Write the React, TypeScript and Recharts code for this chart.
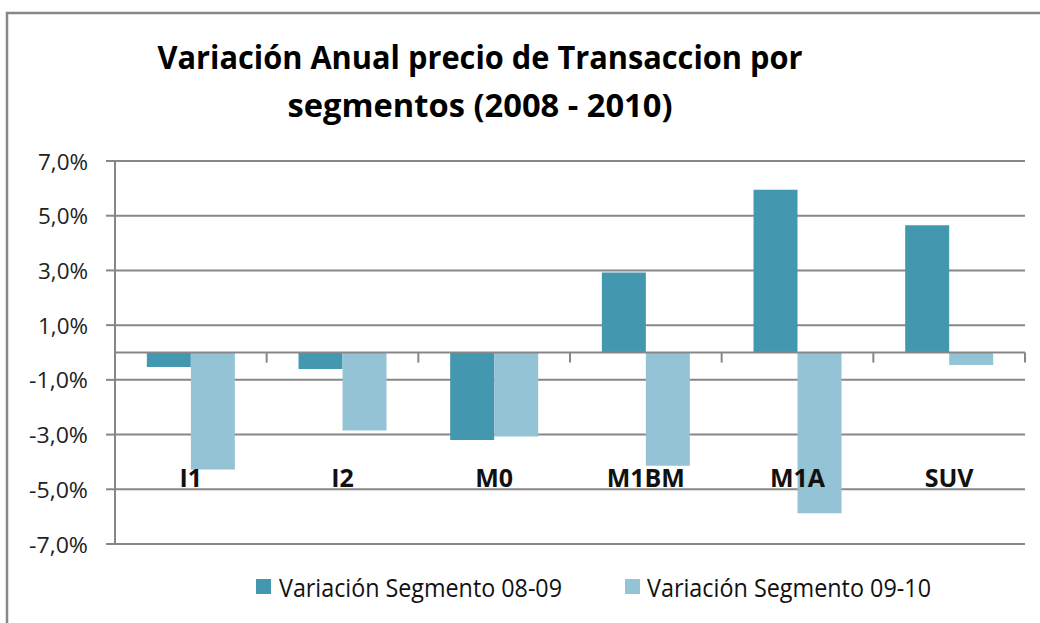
// @ts-nocheck
import React from 'react';
import { BarChart, Bar, XAxis, YAxis, CartesianGrid, ReferenceLine } from 'recharts';

const categories = ['I1', 'I2', 'M0', 'M1BM', 'M1A', 'SUV'];
const variacion0809 = [-0.53, -0.6, -3.2, 2.92, 5.95, 4.65];
const variacion0910 = [-4.28, -2.85, -3.07, -4.14, -5.88, -0.46];
const yTicks = [-7, -5, -3, -1, 1, 3, 5, 7];
const seriesNames = ['Variación Segmento 08-09', 'Variación Segmento 09-10'];
const titleLines = ['Variación Anual precio de Transaccion por', 'segmentos (2008 - 2010)'];

const DARK = '#4398AF';
const LIGHT = '#93C3D4';
const GRID = '#878787';

const data = categories.map((c, i) => ({
  name: c,
  s1: variacion0809[i],
  s2: variacion0910[i],
}));

const fmt = (v) => v.toFixed(1).replace('.', ',') + '%';

const YTick = ({ x, y, payload }) => {
  const label = fmt(payload.value);
  return (
    <text x={x} y={y} dy={8.5} textAnchor="end" fontFamily="'Open Sans', sans-serif" fontSize={22} fill="#222"
      textLength={label.startsWith('-') ? 59 : 50} lengthAdjust="spacingAndGlyphs">
      {label}
    </text>
  );
};

const XTick = ({ x, y, payload }) => (
  <text x={x} y={y} dy={-57} textAnchor="middle" fontFamily="'Open Sans', sans-serif" fontWeight="bold" fontSize={25} fill="#111">
    {payload.value}
  </text>
);

export default function App() {
  return (
    <div style={{ position: 'absolute', left: 0, top: 0, width: 1040, height: 623, background: '#fff' }}>
      <BarChart
        width={1040}
        height={623}
        data={data}
        margin={{ top: 161, right: 15, left: 0, bottom: 49 }}
        barCategoryGap="21%"
        barGap={0}
      >
        <rect x={7} y={13} width={1100} height={700} fill="none" stroke={GRID} strokeWidth={2.5} />
        <text x={480} y={69} textAnchor="middle" fontFamily="'Open Sans', sans-serif" fontWeight="bold" fontSize={32} fill="#000"
          textLength={645} lengthAdjust="spacingAndGlyphs">{titleLines[0]}</text>
        <text x={480} y={117} textAnchor="middle" fontFamily="'Open Sans', sans-serif" fontWeight="bold" fontSize={32} fill="#000"
          textLength={385} lengthAdjust="spacingAndGlyphs">{titleLines[1]}</text>
        <CartesianGrid vertical={false} stroke={GRID} strokeWidth={2} />
        <XAxis dataKey="name" height={30} axisLine={false} tickLine={false} tickSize={0} tickMargin={0} tick={<XTick />} interval={0} />
        <YAxis
          width={115}
          domain={[-7, 7]}
          ticks={yTicks}
          interval={0}
          tickSize={9}
          tickMargin={18}
          axisLine={{ stroke: GRID, strokeWidth: 2 }}
          tickLine={{ stroke: GRID, strokeWidth: 2 }}
          tick={<YTick />}
        />
        <Bar dataKey="s1" name={seriesNames[0]} fill={DARK} isAnimationActive={false} />
        <Bar dataKey="s2" name={seriesNames[1]} fill={LIGHT} isAnimationActive={false} />
        <ReferenceLine y={0} stroke={GRID} strokeWidth={2} />
        {categories.map((c) => (
          <ReferenceLine key={c} segment={[{ x: c, y: 0 }, { x: c, y: -0.37 }]} position="start" stroke={GRID} strokeWidth={2} />
        ))}
        <ReferenceLine segment={[{ x: categories[categories.length - 1], y: 0 }, { x: categories[categories.length - 1], y: -0.37 }]} position="end" stroke={GRID} strokeWidth={2} />
        <rect x={256} y={579} width={15} height={15} fill={DARK} />
        <text x={279} y={597} fontFamily="'Open Sans', sans-serif" fontSize={25} fill="#111" textLength={283} lengthAdjust="spacingAndGlyphs">{seriesNames[0]}</text>
        <rect x={625} y={579} width={15} height={15} fill={LIGHT} />
        <text x={647} y={597} fontFamily="'Open Sans', sans-serif" fontSize={25} fill="#111" textLength={284} lengthAdjust="spacingAndGlyphs">{seriesNames[1]}</text>
      </BarChart>
    </div>
  );
}
